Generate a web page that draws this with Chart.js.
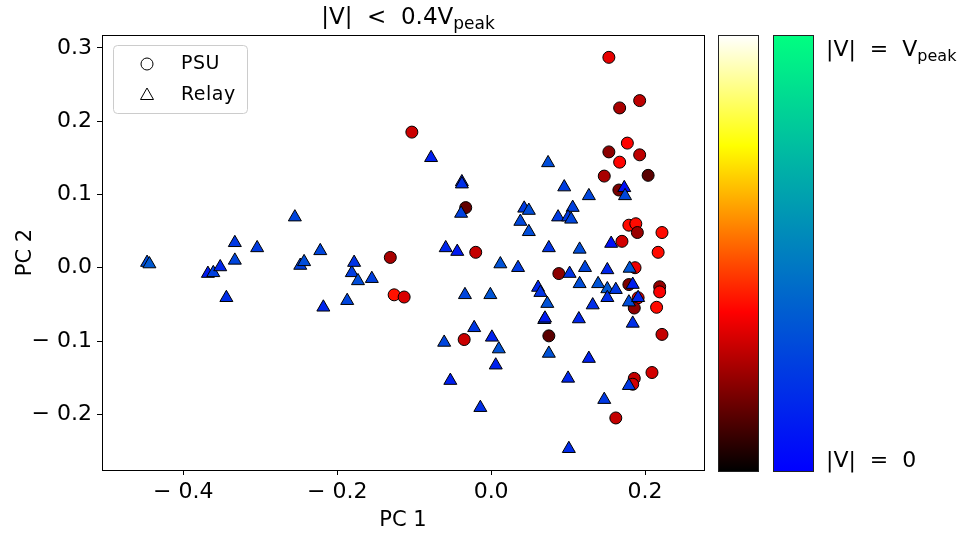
<!DOCTYPE html>
<html>
<head>
<meta charset="utf-8">
<script src="https://cdn.jsdelivr.net/npm/chart.js@4.4.1/dist/chart.umd.min.js"></script>
<style>
  html, body { margin: 0; padding: 0; background: #fff; }
</style>
</head>
<body>
<canvas id="pca" width="960" height="535"></canvas>
<script>
// Relay triangles: PC 1, PC 2 and |V|/Vpeak (colour value)
const relayX = [-0.447, -0.444, -0.368, -0.361, -0.352, -0.344, -0.333, -0.333, -0.304, -0.255,
  -0.248, -0.243, -0.222, -0.218, -0.187, -0.181, -0.178, -0.173, -0.155, -0.078,
  -0.038, -0.038, -0.039, -0.059, -0.044, 0.012, -0.034, -0.001, -0.022, -0.061,
  0.001, 0.010, 0.006, -0.053, -0.014, 0.061, 0.064, 0.073, 0.069, 0.070,
  0.075, 0.115, 0.139, 0.151, 0.162, 0.151, 0.132, 0.114, 0.127, 0.100,
  0.147, 0.101, 0.074, 0.095, 0.127, 0.173, 0.174, 0.043, 0.049, 0.038,
  0.049, 0.087, 0.106, 0.100, 0.104, 0.156, 0.075, 0.115, 0.035, 0.102,
  0.122, 0.151, 0.180, 0.184, 0.179, 0.191, 0.184, 0.179];
const relayY = [0.007, 0.005, -0.008, -0.007, 0.001, -0.041, 0.034, 0.010, 0.027, 0.069,
  0.003, 0.008, 0.023, -0.054, -0.045, -0.007, 0.007, -0.018, -0.015, 0.150,
  0.117, 0.114, 0.074, 0.027, 0.022, 0.005, -0.037, -0.037, -0.082, -0.102,
  -0.095, -0.111, -0.133, -0.154, -0.191, -0.027, -0.034, -0.049, -0.071, -0.069,
  -0.117, -0.022, -0.022, -0.029, -0.030, -0.041, -0.051, -0.070, -0.124, -0.151,
  -0.180, -0.247, 0.143, 0.110, 0.098, 0.109, 0.098, 0.081, 0.078, 0.063,
  0.049, 0.069, 0.082, 0.069, 0.066, 0.033, 0.027, 0.025, 0.000, -0.008,
  0.000, -0.003, -0.001, -0.023, -0.047, -0.041, -0.076, -0.161];
const relayV = [0.30, 0.35, 0.10, 0.25, 0.15, 0.18, 0.22, 0.27, 0.23, 0.27,
  0.25, 0.30, 0.27, 0.15, 0.27, 0.24, 0.20, 0.30, 0.25, 0.12,
  0.15, 0.18, 0.25, 0.15, 0.10, 0.32, 0.27, 0.33, 0.22, 0.27,
  0.13, 0.32, 0.13, 0.12, 0.18, 0.15, 0.20, 0.32, 0.25, 0.10,
  0.32, 0.30, 0.33, 0.35, 0.22, 0.18, 0.18, 0.15, 0.13, 0.15,
  0.22, 0.17, 0.30, 0.24, 0.27, 0.06, 0.28, 0.23, 0.30, 0.28,
  0.30, 0.23, 0.25, 0.22, 0.27, 0.06, 0.20, 0.30, 0.23, 0.20,
  0.27, 0.15, 0.33, 0.12, 0.30, 0.15, 0.18, 0.22];

// PSU circles
const psuX = [-0.103, -0.033, -0.020, -0.131, -0.126, -0.113, -0.035, 0.075, 0.088, 0.153,
  0.167, 0.193, 0.177, 0.153, 0.193, 0.167, 0.147, 0.204, 0.166, 0.179,
  0.188, 0.190, 0.222, 0.170, 0.217, 0.187, 0.179, 0.191, 0.219, 0.219,
  0.215, 0.186, 0.222, 0.209, 0.186, 0.184, 0.162];
const psuY = [0.185, 0.082, 0.021, 0.014, -0.037, -0.040, -0.098, -0.093, -0.008, 0.287,
  0.218, 0.228, 0.170, 0.158, 0.154, 0.144, 0.125, 0.126, 0.106, 0.058,
  0.060, 0.048, 0.048, 0.036, 0.021, 0.000, -0.023, -0.041, -0.026, -0.033,
  -0.054, -0.055, -0.091, -0.143, -0.151, -0.159, -0.205];
const psuV = [0.29, 0.14, 0.28, 0.24, 0.39, 0.31, 0.29, 0.13, 0.20, 0.33,
  0.24, 0.27, 0.37, 0.20, 0.27, 0.37, 0.24, 0.13, 0.17, 0.38,
  0.38, 0.22, 0.38, 0.30, 0.38, 0.34, 0.18, 0.33, 0.21, 0.36,
  0.38, 0.20, 0.28, 0.30, 0.28, 0.30, 0.28];

const xTicks = [-0.4, -0.2, 0.0, 0.2];
const yTicks = [-0.2, -0.1, 0.0, 0.1, 0.2, 0.3];
const seriesNames = ['PSU', 'Relay'];

const FONT = 'DejaVu Sans';

function clamp(v) { return Math.max(0, Math.min(1, v)); }

// matplotlib "hot"
function hot(t) {
    const r = clamp(t / 0.365), g = clamp((t - 0.365) / 0.381), b = clamp((t - 0.746) / 0.254);
    return 'rgb(' + Math.round(r * 255) + ',' + Math.round(g * 255) + ',' + Math.round(b * 255) + ')';
}

// matplotlib "winter"
function winter(t) {
    return 'rgb(0,' + Math.round(t * 255) + ',' + Math.round((1 - t / 2) * 255) + ')';
}

function points(xs, ys) {
    return xs.map((x, i) => ({ x: x, y: ys[i] }));
}

function tickLabel(v) {
    const s = Math.abs(v).toFixed(1);
    return v < -1e-9 ? '\u2212 ' + s : s;
}

// text with a subscript tail, e.g. V_peak
function subText(ctx, main, sub, x, y, size, align) {
    const subSize = Math.round(size * 0.72);
    ctx.font = size + 'px "' + FONT + '"';
    const w1 = ctx.measureText(main).width;
    ctx.font = subSize + 'px "' + FONT + '"';
    const w2 = ctx.measureText(sub).width;
    let x0 = align === 'center' ? x - (w1 + w2) / 2 : x;
    ctx.textAlign = 'left';
    ctx.textBaseline = 'alphabetic';
    ctx.font = size + 'px "' + FONT + '"';
    ctx.fillText(main, x0, y);
    ctx.font = subSize + 'px "' + FONT + '"';
    ctx.fillText(sub, x0 + w1, y + size * 0.22);
}

const decor = {
    id: 'decor',
    afterDraw(chart) {
        const c = chart.ctx;
        const a = chart.chartArea;
        c.save();

        // frame round the axes
        c.strokeStyle = '#000';
        c.lineWidth = 1;
        c.strokeRect(Math.round(a.left) + 0.5, Math.round(a.top) + 0.5,
            Math.round(a.right - a.left), Math.round(a.bottom - a.top));

        // legend
        c.beginPath();
        c.roundRect(113.5, 45.5, 134, 68, 4);
        c.fillStyle = 'rgba(255,255,255,0.8)';
        c.fill();
        c.strokeStyle = '#cccccc';
        c.stroke();
        c.strokeStyle = '#000';
        c.lineWidth = 1;
        c.beginPath();
        c.arc(147, 64, 6, 0, Math.PI * 2);
        c.stroke();
        c.beginPath();
        c.moveTo(147, 88);
        c.lineTo(153.5, 99.5);
        c.lineTo(140.5, 99.5);
        c.closePath();
        c.stroke();
        c.fillStyle = '#000';
        c.font = '19px "' + FONT + '"';
        c.letterSpacing = '0.5px';
        c.textAlign = 'left';
        c.textBaseline = 'middle';
        c.fillText(seriesNames[0], 181, 64);
        c.fillText(seriesNames[1], 181, 95);
        c.letterSpacing = '0px';

        // colour bars
        const top = Math.round(a.top), bot = Math.round(a.bottom) + 1;
        const g1 = c.createLinearGradient(0, bot, 0, top);
        g1.addColorStop(0, '#000000');
        g1.addColorStop(0.365, '#ff0000');
        g1.addColorStop(0.746, '#ffff00');
        g1.addColorStop(1, '#ffffff');
        c.fillStyle = g1;
        c.fillRect(718, top, 40, bot - top);
        const g2 = c.createLinearGradient(0, bot, 0, top);
        g2.addColorStop(0, winter(0));
        g2.addColorStop(1, winter(1));
        c.fillStyle = g2;
        c.fillRect(773, top, 40, bot - top);
        c.strokeStyle = '#222';
        c.strokeRect(718.5, top + 0.5, 40, bot - top);
        c.strokeRect(773.5, top + 0.5, 40, bot - top);

        // texts
        c.fillStyle = '#000';
        subText(c, '|V|  =  V', 'peak', 826, 56, 22, 'left');
        c.font = '22px "' + FONT + '"';
        c.textAlign = 'left';
        c.textBaseline = 'alphabetic';
        c.fillText('|V|  =  0', 826, 467);
        subText(c, '|V|  <  0.4V', 'peak', (a.left + a.right) / 2 + 5, 24, 23, 'center');

        c.restore();
    }
};

const tickFont = { family: FONT, size: 22 };

new Chart(document.getElementById('pca').getContext('2d'), {
    type: 'scatter',
    data: {
        datasets: [{
            label: seriesNames[1],
            data: points(relayX, relayY),
            pointStyle: 'triangle',
            pointRadius: 7.5,
            pointBackgroundColor: relayV.map(winter),
            pointBorderColor: '#000',
            pointBorderWidth: 1,
        }, {
            label: seriesNames[0],
            data: points(psuX, psuY),
            pointStyle: 'circle',
            pointRadius: 6,
            pointBackgroundColor: psuV.map(hot),
            pointBorderColor: '#000',
            pointBorderWidth: 1,
        }],
    },
    options: {
        responsive: false,
        animation: false,
        devicePixelRatio: 1,
        layout: { padding: { top: 35, right: 256, left: 0, bottom: 0 } },
        plugins: {
            legend: { display: false },
            tooltip: { enabled: false },
        },
        scales: {
            x: {
                type: 'linear',
                min: -0.5056,
                max: 0.2766,
                afterBuildTicks: s => { s.ticks = xTicks.map(v => ({ value: v })); },
                afterFit: s => { s.height = 65; },
                grid: { drawOnChartArea: false, drawTicks: true, tickLength: 5, tickColor: '#000' },
                border: { display: true, color: '#000', width: 1 },
                ticks: { color: '#000', font: tickFont, padding: 4, maxRotation: 0, callback: tickLabel },
                title: { display: true, text: 'PC 1', color: '#000', font: { family: FONT, size: 21 }, padding: { top: 0, bottom: 2 } },
            },
            y: {
                type: 'linear',
                min: -0.276,
                max: 0.3175,
                afterBuildTicks: s => { s.ticks = yTicks.map(v => ({ value: v })); },
                afterFit: s => { s.width = 102; },
                grid: { drawOnChartArea: false, drawTicks: true, tickLength: 5, tickColor: '#000' },
                border: { display: true, color: '#000', width: 1 },
                ticks: { color: '#000', font: tickFont, padding: 5, callback: tickLabel },
                title: { display: true, text: 'PC 2', color: '#000', font: { family: FONT, size: 21 }, padding: { top: 13, bottom: 0 } },
            },
        },
    },
    plugins: [decor],
});
</script>
</body>
</html>
